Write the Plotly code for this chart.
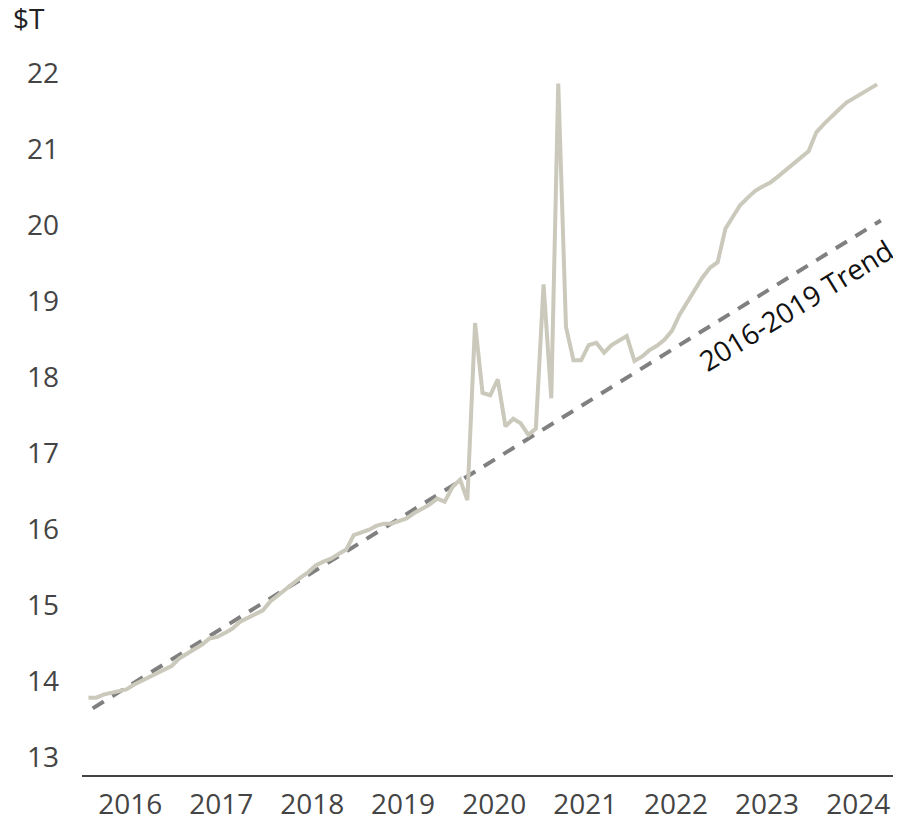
import plotly.graph_objects as go
import pandas as pd

# Monthly disposable income, $T, Jan 2016 .. Sep 2024
values = [
    13.78, 13.78, 13.82, 13.84, 13.86, 13.89, 13.95, 14.00, 14.05, 14.09, 14.14, 14.20,   # 2016
    14.30, 14.36, 14.42, 14.48, 14.56, 14.58, 14.63, 14.69, 14.78, 14.83, 14.87, 14.93,   # 2017
    15.05, 15.13, 15.21, 15.29, 15.36, 15.43, 15.52, 15.57, 15.61, 15.67, 15.73, 15.92,   # 2018
    15.95, 15.99, 16.04, 16.07, 16.07, 16.10, 16.14, 16.21, 16.26, 16.32, 16.40, 16.36,   # 2019
    16.55, 16.65, 16.38, 18.71, 17.79, 17.76, 17.97, 17.35, 17.45, 17.39, 17.24, 17.32,   # 2020
    19.22, 17.72, 21.86, 18.66, 18.22, 18.22, 18.42, 18.45, 18.32, 18.42, 18.48, 18.54,   # 2021
    18.21, 18.27, 18.35, 18.41, 18.49, 18.61, 18.82, 18.99, 19.15, 19.31, 19.44, 19.51,   # 2022
    19.95, 20.12, 20.26, 20.36, 20.45, 20.51, 20.56, 20.64, 20.73, 20.81, 20.89, 20.97,   # 2023
    21.22, 21.33, 21.43, 21.52, 21.61, 21.67, 21.73, 21.78, 21.85,                        # 2024
]
dates = pd.date_range("2016-01-01", periods=len(values), freq="MS") + pd.Timedelta(days=14)

trend_dates = ["2016-02-01", "2024-09-30"]
trend_values = [13.64, 20.06]
trend_label = "2016-2019 Trend"

year_labels = ["2016", "2017", "2018", "2019", "2020", "2021", "2022", "2023", "2024"]
year_ticks = [f"{y}-07-01" for y in year_labels]
y_ticks = list(range(13, 23))

FONT = "Open Sans"

fig = go.Figure()
fig.add_trace(go.Scatter(
    x=trend_dates, y=trend_values, mode="lines",
    line=dict(color="#808080", width=4, dash="13px,10px"),
    hoverinfo="skip", showlegend=False,
))
fig.add_trace(go.Scatter(
    x=dates, y=values, mode="lines",
    line=dict(color="#cbc9bb", width=4),
    showlegend=False,
))

fig.add_annotation(
    x="2023-10-24", y=18.95, xref="x", yref="y",
    text=trend_label, showarrow=False, textangle=-31.7,
    font=dict(family=FONT, size=28, color="#111111"),
)
fig.add_annotation(
    x=0, y=1, xref="paper", yref="paper", xanchor="left", yanchor="middle",
    xshift=-71, yshift=17, text="$T", showarrow=False,
    font=dict(family=FONT, size=28, color="#222222"),
)

fig.update_layout(
    width=893, height=811,
    margin=dict(l=74, r=0, t=27, b=44, autoexpand=False),
    plot_bgcolor="white", paper_bgcolor="white",
    font=dict(family=FONT, size=28, color="#444444"),
    xaxis=dict(
        range=["2015-12-20", "2024-12-20"],
        tickvals=year_ticks, ticktext=year_labels,
        showgrid=False, zeroline=False, ticks="",
        showline=True, linecolor="#444444", linewidth=1.5,
        ticklabelstandoff=4,
        tickfont=dict(family=FONT, size=28, color="#444444"),
    ),
    yaxis=dict(
        range=[12.763, 22.5],
        tickvals=y_ticks, ticktext=[str(v) for v in y_ticks],
        showgrid=False, zeroline=False, ticks="", showline=False,
        ticklabelstandoff=22,
        tickfont=dict(family=FONT, size=28, color="#444444"),
    ),
)

fig.write_html("out.html")
